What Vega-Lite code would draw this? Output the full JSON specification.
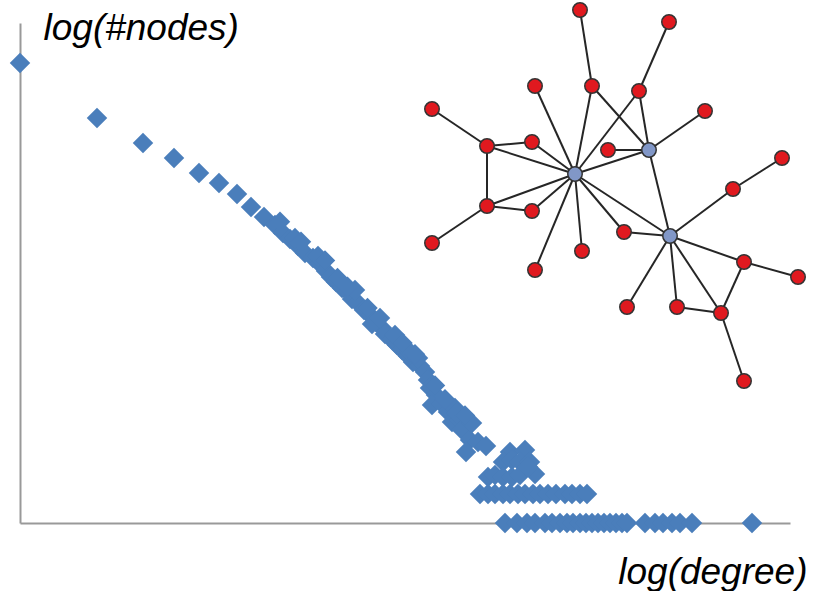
{
  "$schema": "https://vega.github.io/schema/vega-lite/v6.json",
  "width": 770,
  "height": 500,
  "autosize": {"type": "none"},
  "padding": {"left": 20, "top": 23, "right": 29, "bottom": 68},
  "background": "white",
  "config": {"view": {"stroke": null}},
  "datasets": {
    "degree": [
      {"x": 0, "y": 3.68}, {"x": 0.308, "y": 3.24}, {"x": 0.492, "y": 3.04}, {"x": 0.616, "y": 2.92},
      {"x": 0.716, "y": 2.8}, {"x": 0.796, "y": 2.72}, {"x": 0.868, "y": 2.632}, {"x": 0.924, "y": 2.528},
      {"x": 0.976, "y": 2.448}, {"x": 1.02, "y": 2.384}, {"x": 1.052, "y": 2.32}, {"x": 1.08, "y": 2.272},
      {"x": 1.112, "y": 2.216}, {"x": 1.14, "y": 2.16}, {"x": 1.172, "y": 2.12}, {"x": 1.2, "y": 2.072},
      {"x": 1.224, "y": 2.016}, {"x": 1.244, "y": 1.968}, {"x": 1.264, "y": 1.928}, {"x": 1.288, "y": 1.88},
      {"x": 1.312, "y": 1.848}, {"x": 1.328, "y": 1.792}, {"x": 1.352, "y": 1.76}, {"x": 1.376, "y": 1.704},
      {"x": 1.404, "y": 1.656}, {"x": 1.424, "y": 1.608}, {"x": 1.448, "y": 1.56}, {"x": 1.46, "y": 1.512},
      {"x": 1.488, "y": 1.464}, {"x": 1.508, "y": 1.424}, {"x": 1.528, "y": 1.384}, {"x": 1.552, "y": 1.336},
      {"x": 1.572, "y": 1.288}, {"x": 1.6, "y": 1.256}, {"x": 1.62, "y": 1.208}, {"x": 1.632, "y": 1.144},
      {"x": 1.64, "y": 1.08}, {"x": 1.664, "y": 1.024}, {"x": 1.648, "y": 0.944}, {"x": 1.688, "y": 0.952},
      {"x": 1.712, "y": 0.888}, {"x": 1.74, "y": 0.92}, {"x": 1.728, "y": 0.808}, {"x": 1.76, "y": 0.824},
      {"x": 1.768, "y": 0.744}, {"x": 1.8, "y": 0.664}, {"x": 1.832, "y": 0.648}, {"x": 1.864, "y": 0.616},
      {"x": 1.784, "y": 0.568}, {"x": 1.1, "y": 2.28}, {"x": 1.192, "y": 2.136}, {"x": 1.34, "y": 1.864},
      {"x": 1.408, "y": 1.592}, {"x": 1.5, "y": 1.504}, {"x": 1.56, "y": 1.368}, {"x": 1.592, "y": 1.32},
      {"x": 1.748, "y": 0.88}, {"x": 1.808, "y": 0.8},
      {"x": 1.04, "y": 2.41}, {"x": 1.124, "y": 2.25}, {"x": 1.22, "y": 2.1}, {"x": 1.27, "y": 1.96},
      {"x": 1.31, "y": 1.89}, {"x": 1.39, "y": 1.72}, {"x": 1.44, "y": 1.64}, {"x": 1.53, "y": 1.44},
      {"x": 1.58, "y": 1.35}, {"x": 1.66, "y": 1.1}, {"x": 1.7, "y": 0.99}, {"x": 1.78, "y": 0.86},
      {"x": 1.96, "y": 0.568}, {"x": 2.02, "y": 0.584},
      {"x": 1.932, "y": 0.488}, {"x": 1.968, "y": 0.504}, {"x": 2.0, "y": 0.488}, {"x": 2.04, "y": 0.488},
      {"x": 1.872, "y": 0.368}, {"x": 1.9, "y": 0.384}, {"x": 1.932, "y": 0.368}, {"x": 1.968, "y": 0.368},
      {"x": 2.0, "y": 0.384}, {"x": 2.06, "y": 0.392}, {"x": 2.032, "y": 0.448},
      {"x": 1.84, "y": 0.232}, {"x": 1.872, "y": 0.232}, {"x": 1.9, "y": 0.232}, {"x": 1.932, "y": 0.232},
      {"x": 1.96, "y": 0.232}, {"x": 1.992, "y": 0.232}, {"x": 2.02, "y": 0.232}, {"x": 2.052, "y": 0.232},
      {"x": 2.08, "y": 0.232}, {"x": 2.112, "y": 0.232}, {"x": 2.144, "y": 0.232}, {"x": 2.18, "y": 0.232},
      {"x": 2.208, "y": 0.232}, {"x": 2.24, "y": 0.232}, {"x": 2.268, "y": 0.232},
      {"x": 1.94, "y": 0}, {"x": 1.988, "y": 0}, {"x": 2.028, "y": 0}, {"x": 2.06, "y": 0},
      {"x": 2.1, "y": 0}, {"x": 2.128, "y": 0}, {"x": 2.16, "y": 0}, {"x": 2.188, "y": 0},
      {"x": 2.212, "y": 0}, {"x": 2.24, "y": 0}, {"x": 2.264, "y": 0}, {"x": 2.288, "y": 0},
      {"x": 2.312, "y": 0}, {"x": 2.336, "y": 0}, {"x": 2.36, "y": 0}, {"x": 2.384, "y": 0},
      {"x": 2.408, "y": 0}, {"x": 2.428, "y": 0}, {"x": 2.5, "y": 0}, {"x": 2.54, "y": 0},
      {"x": 2.572, "y": 0}, {"x": 2.608, "y": 0}, {"x": 2.64, "y": 0}, {"x": 2.688, "y": 0},
      {"x": 2.928, "y": 0}
    ],
    "nodes": [
      {"id": "n1", "type": "leaf", "x": 2.24, "y": 4.104},
      {"id": "n2", "type": "leaf", "x": 2.596, "y": 4.008},
      {"id": "n3", "type": "leaf", "x": 2.06, "y": 3.496},
      {"id": "n4", "type": "leaf", "x": 2.288, "y": 3.496},
      {"id": "n5", "type": "leaf", "x": 2.476, "y": 3.456},
      {"id": "n6", "type": "leaf", "x": 1.648, "y": 3.312},
      {"id": "n7", "type": "leaf", "x": 2.74, "y": 3.296},
      {"id": "n8", "type": "leaf", "x": 1.868, "y": 3.016},
      {"id": "n9", "type": "leaf", "x": 2.048, "y": 3.048},
      {"id": "n10", "type": "leaf", "x": 2.352, "y": 2.984},
      {"id": "n11", "type": "leaf", "x": 3.048, "y": 2.92},
      {"id": "n12", "type": "leaf", "x": 2.852, "y": 2.672},
      {"id": "n13", "type": "leaf", "x": 1.868, "y": 2.536},
      {"id": "n14", "type": "leaf", "x": 2.048, "y": 2.496},
      {"id": "n15", "type": "leaf", "x": 2.416, "y": 2.328},
      {"id": "n16", "type": "leaf", "x": 1.648, "y": 2.24},
      {"id": "n17", "type": "leaf", "x": 2.248, "y": 2.176},
      {"id": "n18", "type": "leaf", "x": 2.06, "y": 2.024},
      {"id": "n19", "type": "leaf", "x": 2.896, "y": 2.088},
      {"id": "n20", "type": "leaf", "x": 3.112, "y": 1.968},
      {"id": "n21", "type": "leaf", "x": 2.428, "y": 1.728},
      {"id": "n22", "type": "leaf", "x": 2.628, "y": 1.728},
      {"id": "n23", "type": "leaf", "x": 2.804, "y": 1.68},
      {"id": "n24", "type": "leaf", "x": 2.896, "y": 1.136},
      {"id": "H1", "type": "hub", "x": 2.22, "y": 2.792},
      {"id": "H2", "type": "hub", "x": 2.516, "y": 2.984},
      {"id": "H3", "type": "hub", "x": 2.6, "y": 2.296}
    ],
    "edges": [
      {"s": "n1", "t": "n4"}, {"s": "n2", "t": "n5"}, {"s": "n4", "t": "H1"}, {"s": "n4", "t": "H2"},
      {"s": "n5", "t": "H1"}, {"s": "n5", "t": "H2"}, {"s": "n3", "t": "H1"}, {"s": "n6", "t": "n8"},
      {"s": "n8", "t": "n9"}, {"s": "n8", "t": "H1"}, {"s": "n8", "t": "n13"}, {"s": "n9", "t": "H1"},
      {"s": "n10", "t": "H2"}, {"s": "H1", "t": "H2"}, {"s": "n7", "t": "H2"}, {"s": "H2", "t": "H3"},
      {"s": "n11", "t": "n12"}, {"s": "n12", "t": "H3"}, {"s": "n13", "t": "H1"}, {"s": "n13", "t": "n14"},
      {"s": "n14", "t": "H1"}, {"s": "n13", "t": "n16"}, {"s": "n15", "t": "H3"}, {"s": "n15", "t": "H1"},
      {"s": "n17", "t": "H1"}, {"s": "n18", "t": "H1"}, {"s": "H1", "t": "H3"}, {"s": "H3", "t": "n19"},
      {"s": "n19", "t": "n20"}, {"s": "n19", "t": "n23"}, {"s": "H3", "t": "n23"}, {"s": "H3", "t": "n21"},
      {"s": "H3", "t": "n22"}, {"s": "n22", "t": "n23"}, {"s": "n23", "t": "n24"}
    ]
  },
  "encoding": {
    "x": {
      "field": "x", "type": "quantitative",
      "scale": {"domain": [0, 3.08], "nice": false, "zero": false},
      "axis": {
        "title": "log(degree)", "domain": true, "domainColor": "#999999", "domainWidth": 2,
        "ticks": false, "labels": false, "grid": false,
        "titleFont": "Liberation Sans", "titleFontStyle": "italic", "titleFontWeight": "normal",
        "titleFontSize": 37, "titleColor": "#000000",
        "titleX": 787, "titleY": 60, "titleAlign": "right", "titleBaseline": "alphabetic"
      }
    },
    "y": {
      "field": "y", "type": "quantitative",
      "scale": {"domain": [0, 4], "nice": false, "zero": false},
      "axis": {
        "title": "log(#nodes)", "domain": true, "domainColor": "#999999", "domainWidth": 2,
        "ticks": false, "labels": false, "grid": false,
        "titleFont": "Liberation Sans", "titleFontStyle": "italic", "titleFontWeight": "normal",
        "titleFontSize": 37, "titleColor": "#000000", "titleAngle": 0,
        "titleX": 23, "titleY": 16, "titleAlign": "left", "titleBaseline": "alphabetic"
      }
    }
  },
  "layer": [
    {
      "data": {"name": "degree"},
      "mark": {"type": "point", "shape": "diamond", "filled": true, "size": 420, "color": "#4a7ebb", "opacity": 1, "strokeWidth": 0}
    },
    {
      "data": {"name": "edges"},
      "transform": [
        {"lookup": "s", "from": {"data": {"name": "nodes"}, "key": "id", "fields": ["x", "y"]}, "as": ["x", "y"]},
        {"lookup": "t", "from": {"data": {"name": "nodes"}, "key": "id", "fields": ["x", "y"]}, "as": ["x2", "y2"]}
      ],
      "mark": {"type": "rule", "color": "#262626", "strokeWidth": 2},
      "encoding": {
        "x2": {"field": "x2"},
        "y2": {"field": "y2"}
      }
    },
    {
      "data": {"name": "nodes"},
      "mark": {"type": "circle", "size": 210, "opacity": 1, "stroke": "#333333", "strokeWidth": 1.5},
      "encoding": {
        "color": {"field": "type", "type": "nominal", "scale": {"domain": ["leaf", "hub"], "range": ["#e0191f", "#8197c7"]}, "legend": null}
      }
    }
  ]
}
